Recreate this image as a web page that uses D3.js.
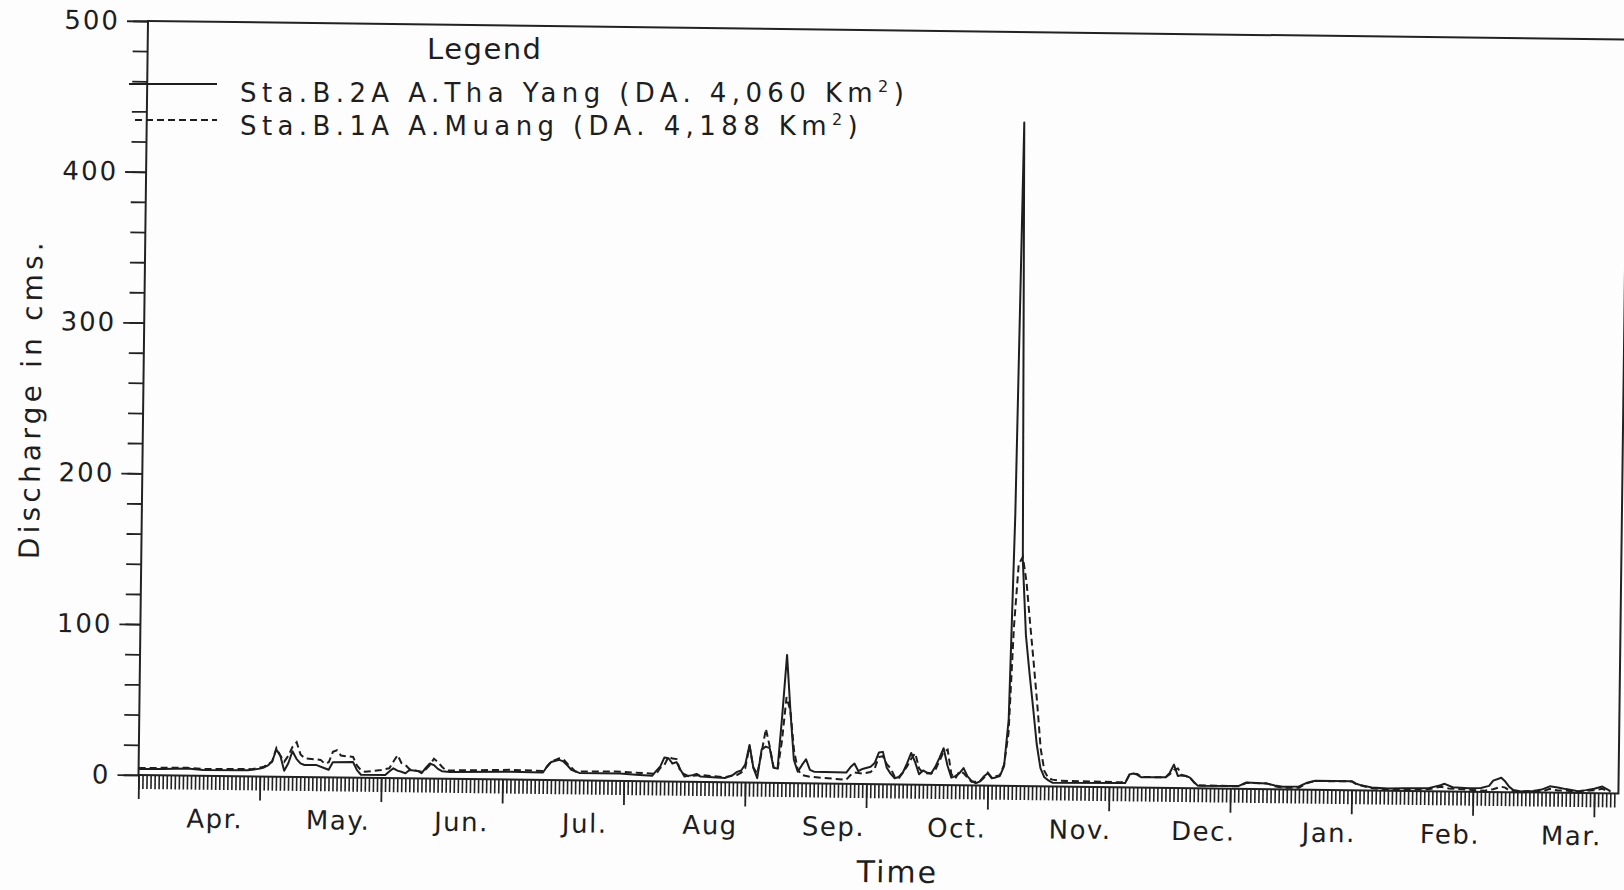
<!DOCTYPE html>
<html>
<head>
<meta charset="utf-8">
<script src="https://cdn.jsdelivr.net/npm/d3@7"></script>
<style>
  body { margin: 0; background: #fff; }
  svg text { font-family: 'DejaVu Sans', sans-serif; fill: #1e1e1e; }
</style>
</head>
<body>
<div class="d3-canvas"></div>
<script>
const WIDTH = 1624;
const HEIGHT = 890;

// Water year runs Apr. -> Mar., one tick per day.
const months = ['Apr.', 'May.', 'Jun.', 'Jul.', 'Aug', 'Sep.', 'Oct.', 'Nov.', 'Dec.', 'Jan.', 'Feb.', 'Mar.'];
const monthDays = [30, 31, 30, 31, 31, 30, 31, 30, 31, 31, 29, 31];
const yTicks = [0, 100, 200, 300, 400, 500];

// Sta.B.2A A.Tha Yang (solid) - day of year and discharge in cms.
const thaYangDays = [0, 6, 12, 16, 27, 30, 31, 32, 33, 34, 35, 36, 37, 38, 39, 40, 41, 44, 46, 47, 48, 53, 54, 55,
  61, 62, 63, 64, 65, 66, 67, 69, 70, 71, 72, 73, 74, 75, 77, 92, 100, 101, 102, 104, 105, 106, 107, 109, 119, 123,
  127, 128, 129, 130, 131, 132, 133, 134, 135, 137, 138, 139, 145, 147, 148, 149, 150, 151, 152, 153, 154, 155, 156,
  157, 158, 159, 160, 161, 162, 163, 164, 165, 166, 167, 175, 176, 177, 178, 179, 181, 182, 183, 184, 185, 186, 187,
  188, 189, 190, 191, 192, 193, 194, 195, 196, 197, 198, 199, 200, 201, 202, 203, 204, 205, 206, 207, 208, 209, 210,
  211, 212, 213, 214, 215, 216, 217, 218, 219, 220, 221, 222, 223, 224, 225, 226, 244, 245, 246, 247, 248, 254, 255,
  256, 257, 258, 259, 260, 261, 262, 272, 274, 279, 281, 283, 287, 289, 291, 300, 301, 302, 305, 309, 313, 319, 322,
  323, 325, 329, 332, 334, 335, 337, 338, 339, 340, 342, 345, 347, 349, 351, 353, 356, 358, 360, 362, 364];
const thaYangCms = [4.0, 4.2, 4.6, 3.8, 4.0, 5.2, 6, 7.5, 10, 18, 14, 4, 9, 17, 12, 9, 8, 8, 6, 5, 10, 10.4, 5, 2,
  2, 4.3, 6.5, 5, 4.3, 3.3, 5.5, 5, 3.5, 7, 10, 9, 6.5, 5, 4.5, 5.2, 5, 9, 12, 13.5, 12.5, 10, 7, 5, 5, 4.2,
  3.7, 7, 10, 16, 15.5, 12, 13, 8, 3.5, 4.5, 5.3, 3.6, 2.8, 5, 7, 8, 12, 25, 10, 3, 22, 24, 23,
  10, 9.5, 45, 85, 48, 15.5, 7.7, 12, 16, 9, 7.8, 7.5, 11, 13.5, 8.5, 10, 11.5, 14, 21, 21.5, 11, 7, 4.1,
  5, 8, 14, 21, 15, 7, 9.5, 8, 7.7, 12, 18, 24.4, 13, 5, 6, 8, 11.4, 6, 3, 1.5, 2.6, 6, 8.2,
  4.9, 5.5, 6.5, 13, 44, 180, 440, 150, 100, 75, 52, 28, 12, 6, 4, 2.5, 2.8, 8.5, 9.3, 8.4, 6.8, 7, 10,
  15.5, 8, 8.5, 8, 7, 4, 1.7, 1.8, 4.2, 3.8, 2.5, 1.7, 2, 4.6, 6, 6, 4.5, 3.6, 2, 1.5, 1.8, 2, 4,
  5, 2.8, 2.3, 2.5, 4, 7.5, 9.5, 7, 3.5, 1.5, 0.6, 1, 2, 4.2, 3.5, 2.5, 1.2, 2, 3, 4.5, 1.5];

// Sta.B.1A A.Muang (dashed) - day of year and discharge in cms.
const muangDays = [0, 12, 16, 28, 31, 33, 34, 35, 36, 37, 38, 39, 40, 41, 45, 46, 47, 48, 49, 50, 53, 54, 55, 56,
  60, 62, 63, 64, 65, 66, 67, 70, 71, 72, 73, 74, 75, 76, 92, 100, 101, 102, 104, 105, 106, 108, 118, 125, 128, 129,
  130, 131, 132, 133, 134, 135, 136, 139, 145, 148, 149, 150, 151, 152, 153, 154, 155, 156, 157, 158, 159, 160, 161,
  162, 163, 164, 166, 175, 176, 177, 179, 181, 182, 183, 184, 185, 186, 187, 188, 189, 190, 191, 192, 193, 194, 196,
  197, 198, 199, 200, 201, 202, 203, 204, 205, 206, 208, 209, 210, 211, 213, 214, 215, 216, 217, 218, 219, 220, 221,
  222, 223, 224, 225, 226, 228, 244, 245, 246, 247, 248, 254, 255, 256, 257, 258, 259, 260, 261, 262, 272, 274, 279,
  281, 283, 287, 289, 291, 300, 301, 302, 305, 309, 313, 319, 322, 324, 329, 333, 335, 337, 338, 339, 342, 345, 347,
  349, 351, 353, 356, 358, 360, 362, 364];
const muangCms = [4.6, 5.2, 4.5, 4.8, 6.5, 10, 19, 14, 10, 14, 20, 23, 15, 12.5, 11.5, 9, 10, 17, 18, 14.5, 13.7, 8, 5, 4,
  5.3, 6.5, 11, 15.3, 10, 8.8, 6, 4.5, 6, 9, 13.2, 11, 8, 5.5, 6.5, 6, 9, 12.3, 14.5, 14, 11, 6, 6.3, 5.4, 5, 9,
  11, 16.4, 15.3, 15, 6.5, 5, 3.8, 4.6, 3.4, 5, 6.5, 9.4, 24.3, 10, 6, 20, 35.8, 24, 10.6, 8.5, 28, 57, 48,
  22, 9, 5.5, 4.4, 2.7, 5.7, 7.6, 7, 8, 10.3, 18, 18.6, 13.4, 10.5, 5, 4, 8, 12, 17, 20.9, 10.8, 7.9, 7.5,
  10, 15.8, 22, 23.5, 7.2, 4.4, 9.3, 8.1, 5, 2.4, 2.5, 5, 8.6, 5.3, 7, 14, 35, 105, 147, 152, 135, 108, 82,
  55, 25, 10, 5.5, 4.5, 3.8, 3.3, 8, 9, 9, 7, 7, 9, 12, 13, 8.5, 8, 7, 4, 2, 1.6, 4, 3.8,
  2, 1.0, 1.2, 4.3, 5.8, 5.8, 4.2, 3.4, 1.4, 0.6, 0.8, 1.2, 3, 2, 1.2, 0.8, 1.8, 3.5, 3, 1, 0.4, 1.2, 0.6,
  2.5, 1.5, 1.5, 0.5, 1.5, 2, 3, 1];

const chartWidth = 1480;
const chartHeight = 754;

const svg = d3.select('.d3-canvas')
    .append('svg')
        .attr('width', WIDTH)
        .attr('height', HEIGHT);

svg.append('rect')
    .attr('width', WIDTH)
    .attr('height', HEIGHT)
    .attr('fill', '#fdfdfd');

// The scanned sheet sits a little crooked, so the whole chart is turned slightly.
const chart = svg.append('g')
    .attr('transform', 'translate(148, 21) rotate(0.72)');

const x = d3.scaleLinear()
    .domain([0, 366])
    .range([0, chartWidth]);
const y = d3.scaleLinear()
    .domain([0, 500])
    .range([chartHeight, 0]);

// Daily hash marks and the longer 30-day marks hanging under the time axis.
const dayAxis = d3.axisBottom(x)
    .tickValues(d3.range(0, 366))
    .tickSize(14)
    .tickSizeOuter(0)
    .tickFormat('');
const longAxis = d3.axisBottom(x)
    .tickValues(d3.range(0, 361, 30))
    .tickSize(24)
    .tickSizeOuter(0)
    .tickFormat('');

chart.append('g')
    .attr('class', 'day-ticks')
    .attr('transform', `translate(0, ${chartHeight})`)
    .call(dayAxis);
chart.append('g')
    .attr('transform', `translate(0, ${chartHeight})`)
    .call(longAxis);

// Left axis: minor ticks every 20, labelled ticks every 100.
const minorAxis = d3.axisLeft(y)
    .tickValues(d3.range(0, 501, 20))
    .tickSize(15)
    .tickSizeOuter(0)
    .tickFormat('');
const yAxis = d3.axisLeft(y)
    .tickValues(yTicks)
    .tickSize(21)
    .tickSizeOuter(0)
    .tickPadding(7)
    .tickFormat(d => d);

chart.append('g').call(minorAxis);
const yAxisGroup = chart.append('g').call(yAxis);
yAxisGroup.selectAll('text')
    .attr('font-size', 26)
    .attr('font-family', null)
    .attr('letter-spacing', 2);

chart.selectAll('.domain').remove();
chart.selectAll('.tick line')
    .attr('stroke', '#222')
    .attr('stroke-width', 1.8);
chart.selectAll('.day-ticks .tick line')
    .attr('stroke-width', 1.6);

// Frame around the plot.
chart.append('rect')
    .attr('width', chartWidth)
    .attr('height', chartHeight)
    .attr('fill', 'none')
    .attr('stroke', '#222')
    .attr('stroke-width', 2);

// Month names sit a few days right of each month's middle.
const monthStarts = monthDays.map((d, i) => d3.sum(monthDays.slice(0, i)));
chart.selectAll('.month')
    .data(months)
    .enter()
    .append('text')
        .attr('class', 'month')
        .attr('x', (d, i) => x(monthStarts[i] + monthDays[i] / 2 + 4))
        .attr('y', chartHeight + 52)
        .attr('text-anchor', 'middle')
        .attr('font-size', 26)
        .attr('letter-spacing', 1.5)
        .text(d => d);

// Series lines.
const line = d3.line()
    .x(d => x(d[0]))
    .y(d => y(d[1]));

chart.append('path')
    .datum(d3.zip(thaYangDays, thaYangCms))
    .attr('fill', 'none')
    .attr('stroke', '#1e1e1e')
    .attr('stroke-width', 2)
    .attr('stroke-linejoin', 'round')
    .attr('d', line);

chart.append('path')
    .datum(d3.zip(muangDays, muangCms))
    .attr('fill', 'none')
    .attr('stroke', '#1e1e1e')
    .attr('stroke-width', 2)
    .attr('stroke-dasharray', '7,4')
    .attr('d', line);

// Axis titles.
chart.append('text')
    .attr('x', chartWidth / 2 + 20)
    .attr('y', chartHeight + 98)
    .attr('text-anchor', 'middle')
    .attr('font-size', 30)
    .attr('letter-spacing', 2)
    .text('Time');

chart.append('text')
    .attr('transform', `translate(-112, ${chartHeight / 2 + 2}) rotate(-90)`)
    .attr('text-anchor', 'middle')
    .attr('dominant-baseline', 'central')
    .attr('font-size', 28)
    .attr('letter-spacing', 4.2)
    .text('Discharge in cms.');

// Legend (kept level so the two rows don't run into each other).
const legend = svg.append('g');

legend.append('text')
    .attr('x', 427)
    .attr('y', 59)
    .attr('font-size', 29)
    .attr('letter-spacing', 1.5)
    .text('Legend');

const legendRows = [
    {label: 'Sta.B.2A A.Tha Yang (DA. 4,060 Km', dash: null, lineX: 129, lineY: 84, textY: 102},
    {label: 'Sta.B.1A A.Muang (DA. 4,188 Km', dash: '7,4', lineX: 135, lineY: 120, textY: 135}
];

legendRows.forEach(row => {
    legend.append('line')
        .attr('x1', row.lineX)
        .attr('x2', 217)
        .attr('y1', row.lineY)
        .attr('y2', row.lineY)
        .attr('stroke', '#1e1e1e')
        .attr('stroke-width', 2)
        .attr('stroke-dasharray', row.dash);

    const label = legend.append('text')
        .attr('x', 240)
        .attr('y', row.textY)
        .attr('font-size', 26)
        .attr('letter-spacing', 5.4);
    label.append('tspan').text(row.label);
    label.append('tspan')
        .attr('font-size', 16)
        .attr('dy', -10)
        .text('2');
    label.append('tspan')
        .attr('dy', 10)
        .text(')');
});
</script>
</body>
</html>
